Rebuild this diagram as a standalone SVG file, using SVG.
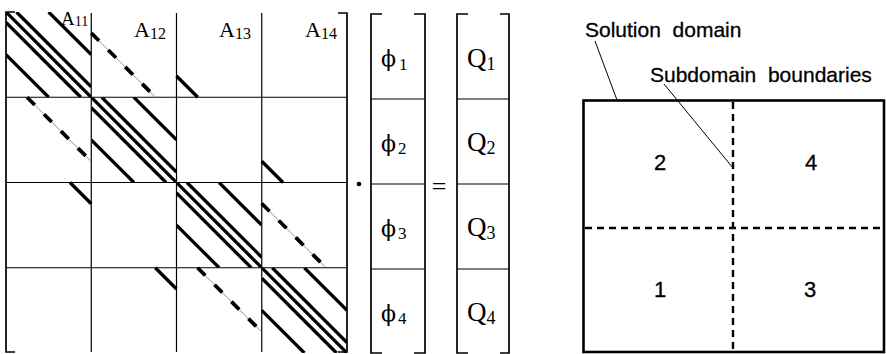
<svg xmlns="http://www.w3.org/2000/svg" xmlns:xlink="http://www.w3.org/1999/xlink" width="886" height="354" viewBox="0 0 886 354">
<style>
.grid{stroke:#000;stroke-width:1.2;fill:none}
.br{stroke:#000;stroke-width:1.7;fill:none}
.thick{stroke:#000;stroke-width:3.3;stroke-linecap:butt;fill:none}
.thin{stroke:#666;stroke-width:0.7;fill:none}
.dash{stroke:#000;stroke-width:3.8;stroke-dasharray:11 13;fill:none}
.ser{font-family:"Liberation Serif","Times New Roman",serif;fill:#000}
.phi{font-family:"DejaVu Serif","Liberation Serif",serif;fill:#000}
.sans{font-family:"Liberation Sans",Arial,sans-serif;fill:#000;stroke:#000;stroke-width:0.3}
.box{stroke:#000;stroke-width:2.6;fill:none}
.bd{stroke:#000;stroke-width:2.4;stroke-dasharray:7 5;fill:none}
.lead{stroke:#000;stroke-width:1;fill:none}
</style>
<defs>
<clipPath id="cb"><rect x="0" y="0" width="85.25" height="85.25"/></clipPath>
<g id="db" clip-path="url(#cb)">
<line class="thick" x1="-2" y1="-2" x2="87.25" y2="87.25"/>
<line class="thick" x1="10.5" y1="0" x2="85.25" y2="74.75"/>
<line class="thick" x1="0" y1="10.5" x2="74.75" y2="85.25"/>
<line class="thick" x1="42.6" y1="0" x2="85.25" y2="42.65"/>
<line class="thick" x1="0" y1="42.6" x2="42.65" y2="85.25"/>
</g>
<g id="dl">
<line class="thin" x1="0" y1="0" x2="63.75" y2="63.75"/>
<line class="dash" x1="0" y1="0" x2="63.75" y2="63.75"/>
</g>
</defs>

<g id="matrix">
<path class="br" d="M15,12 H6 V352 H15"/>
<path class="br" d="M338,13 H347 V352 H338"/>
<line class="grid" x1="91.25" y1="13" x2="91.25" y2="352"/>
<line class="grid" x1="176.5" y1="13" x2="176.5" y2="352"/>
<line class="grid" x1="261.75" y1="13" x2="261.75" y2="352"/>
<line class="grid" x1="6" y1="97.25" x2="347" y2="97.25"/>
<line class="grid" x1="6" y1="182.5" x2="347" y2="182.5"/>
<line class="grid" x1="6" y1="267.75" x2="347" y2="267.75"/>
<use xlink:href="#db" x="6" y="12"/>
<use xlink:href="#db" x="91.25" y="97.25"/>
<use xlink:href="#db" x="176.5" y="182.5"/>
<use xlink:href="#db" x="261.75" y="267.75"/>
<use xlink:href="#dl" x="91.25" y="33"/>
<use xlink:href="#dl" x="261.75" y="203.5"/>
<use xlink:href="#dl" x="27" y="97.25"/>
<use xlink:href="#dl" x="197.5" y="267.75"/>
<line class="thick" x1="176.5" y1="76" x2="197.75" y2="97.25"/>
<line class="thick" x1="261.75" y1="161.25" x2="283" y2="182.5"/>
<line class="thick" x1="70" y1="182.5" x2="91.25" y2="203.75"/>
<line class="thick" x1="155.25" y1="267.75" x2="176.5" y2="289"/>
<text class="ser" x="61" y="25" font-size="19">A<tspan font-size="14" dy="1">11</tspan></text>
<text class="ser" x="134" y="37" font-size="22">A<tspan font-size="16" dy="2">12</tspan></text>
<text class="ser" x="219" y="37" font-size="22">A<tspan font-size="16" dy="2">13</tspan></text>
<text class="ser" x="305" y="37" font-size="22">A<tspan font-size="16" dy="2">14</tspan></text>
</g>

<g id="dot"><circle cx="359" cy="184" r="2.3" fill="#000"/></g>

<g id="phi">
<path class="br" d="M382,14 H371 V353 H382"/>
<path class="br" d="M414,14 H425 V353 H414"/>
<line class="grid" x1="371" y1="99" x2="425" y2="99"/>
<line class="grid" x1="371" y1="184" x2="425" y2="184"/>
<line class="grid" x1="371" y1="269" x2="425" y2="269"/>
<text x="381" y="66"><tspan class="phi" font-size="22">ϕ</tspan><tspan class="ser" font-size="17" dx="3" dy="4">1</tspan></text>
<text x="381" y="151"><tspan class="phi" font-size="22">ϕ</tspan><tspan class="ser" font-size="17" dx="2" dy="3">2</tspan></text>
<text x="381" y="236"><tspan class="phi" font-size="22">ϕ</tspan><tspan class="ser" font-size="17" dx="2" dy="3">3</tspan></text>
<text x="381" y="321"><tspan class="phi" font-size="22">ϕ</tspan><tspan class="ser" font-size="17" dx="2" dy="3">4</tspan></text>
</g>

<g id="equals"><text class="ser" x="439" y="195" font-size="26" text-anchor="middle">=</text></g>

<g id="Q">
<path class="br" d="M468,14 H457 V353 H468"/>
<path class="br" d="M500,14 H509 V353 H500"/>
<line class="grid" x1="457" y1="99" x2="509" y2="99"/>
<line class="grid" x1="457" y1="184" x2="509" y2="184"/>
<line class="grid" x1="457" y1="269" x2="509" y2="269"/>
<text class="ser" x="467" y="67" font-size="27">Q<tspan font-size="18" dx="0" dy="3">1</tspan></text>
<text class="ser" x="467" y="151" font-size="27">Q<tspan font-size="18" dx="0" dy="3">2</tspan></text>
<text class="ser" x="467" y="236" font-size="27">Q<tspan font-size="18" dx="0" dy="3">3</tspan></text>
<text class="ser" x="467" y="321" font-size="27">Q<tspan font-size="18" dx="0" dy="3">4</tspan></text>
</g>

<g id="domain">
<rect class="box" x="583.5" y="100.5" width="300.5" height="251.5"/>
<line class="bd" x1="733" y1="102" x2="733" y2="351"/>
<line class="bd" x1="585" y1="228" x2="883" y2="228"/>
</g>
<g id="sub2"><text class="sans" x="660" y="170" font-size="22" text-anchor="middle">2</text></g>
<g id="sub4"><text class="sans" x="811" y="170" font-size="22" text-anchor="middle">4</text></g>
<g id="sub1"><text class="sans" x="660" y="297" font-size="22" text-anchor="middle">1</text></g>
<g id="sub3"><text class="sans" x="810" y="297" font-size="22" text-anchor="middle">3</text></g>

<g id="labels">
<text class="sans" x="585" y="37" font-size="21" xml:space="preserve">Solution  domain</text>
<text class="sans" x="650" y="82" font-size="21" xml:space="preserve">Subdomain  boundaries</text>
</g>

<g id="connectors">
<line class="lead" x1="595" y1="41" x2="617" y2="100"/>
<line class="lead" x1="664" y1="84" x2="733" y2="168"/>
</g>
</svg>
